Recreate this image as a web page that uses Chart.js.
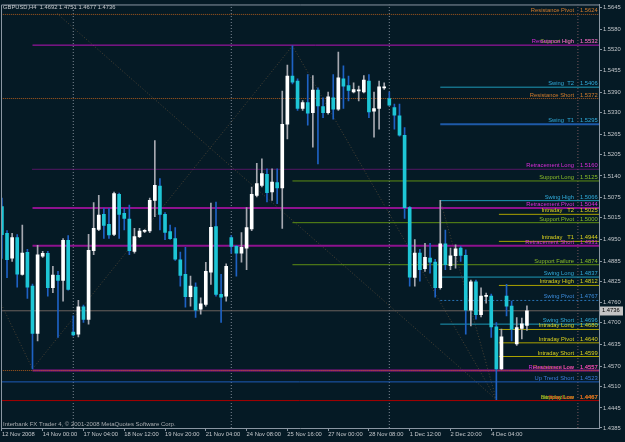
<!DOCTYPE html>
<html><head><meta charset="utf-8">
<script src="https://cdn.jsdelivr.net/npm/chart.js@4.4.1/dist/chart.umd.min.js"></script>
<style>html,body{margin:0;padding:0;background:#051a25;overflow:hidden}canvas{display:block}</style>
</head><body>
<canvas id="c" width="625" height="442"></canvas>
<script>
const symbolTitle = 'GBPUSD,H4  1.4692 1.4751 1.4677 1.4736';
const footerText = 'Interbank FX Trader 4, \u00a9 2001-2008 MetaQuotes Software Corp.';

const opens  = [1.5048,1.4968,1.4894,1.4955,1.4845,1.4911,1.4810,1.4668,1.4900,1.4908,1.4805,1.4842,1.4827,1.4947,1.4672,1.4666,1.4748,1.4710,1.4916,1.4980,
1.5025,1.4995,1.4965,1.5085,1.5028,1.5011,1.4914,1.4958,1.4974,1.4975,1.5067,1.5110,1.5025,1.4973,1.4952,1.4889,1.4845,1.4778,1.4807,1.4741,
1.4755,1.4852,1.4988,1.4785,1.4780,1.4955,1.4929,1.4909,1.4924,1.4981,1.5082,1.5112,1.5145,1.5092,1.5120,1.5104,1.5295,1.5439,1.5424,1.5342,
1.5360,1.5330,1.5397,1.5348,1.5330,1.5374,1.5340,1.5431,1.5411,1.5392,1.5395,1.5392,1.5424,1.5334,1.5342,1.5404,1.5372,1.5345,1.5320,1.5262,
1.5045,1.4836,1.4909,1.4862,1.4894,1.4882,1.4805,1.4937,1.4871,1.4901,1.4924,1.4902,1.4738,1.4823,1.4724,1.4779,1.4780,1.4688,1.4562,1.4780,
1.4750,1.4637,1.4683,1.4692];
const highs  = [1.5074,1.4976,1.4968,1.4964,1.4993,1.4920,1.4816,1.4932,1.4914,1.4914,1.4869,1.4854,1.4952,1.4961,1.4721,1.4767,1.4753,1.4965,1.5060,1.5082,
1.5043,1.5043,1.5092,1.5089,1.5043,1.5053,1.4983,1.4983,1.4979,1.5074,1.5246,1.5132,1.5030,1.4993,1.4985,1.4912,1.4926,1.4840,1.4820,1.4775,
1.4881,1.5059,1.5062,1.4845,1.4877,1.4961,1.4932,1.4970,1.5045,1.5107,1.5178,1.5191,1.5161,1.5161,1.5161,1.5394,1.5472,1.5530,1.5431,1.5366,
1.5444,1.5441,1.5404,1.5374,1.5391,1.5444,1.5511,1.5470,1.5439,1.5419,1.5409,1.5441,1.5444,1.5391,1.5424,1.5419,1.5391,1.5355,1.5355,1.5285,
1.5048,1.4949,1.4920,1.4938,1.4938,1.4890,1.5067,1.4978,1.4924,1.4934,1.4929,1.4919,1.4828,1.4828,1.4805,1.4789,1.4786,1.4701,1.4681,1.4815,
1.4765,1.4716,1.4714,1.4751];
const lows   = [1.4893,1.4835,1.4884,1.4807,1.4843,1.4773,1.4562,1.4646,1.4896,1.4780,1.4790,1.4656,1.4765,1.4798,1.4661,1.4658,1.4701,1.4696,1.4904,1.4976,
1.4953,1.4953,1.4961,1.4953,1.4978,1.4904,1.4909,1.4955,1.4970,1.4970,1.5018,1.4978,1.4949,1.4950,1.4887,1.4810,1.4747,1.4750,1.4716,1.4726,
1.4750,1.4815,1.4780,1.4701,1.4765,1.4909,1.4840,1.4882,1.4859,1.4976,1.5077,1.5107,1.5062,1.5067,1.5057,1.4983,1.5251,1.5416,1.5336,1.5336,
1.5292,1.5226,1.5176,1.5315,1.5325,1.5310,1.5336,1.5342,1.5365,1.5389,1.5365,1.5389,1.5315,1.5256,1.5280,1.5399,1.5351,1.5280,1.5259,1.5013,
1.4810,1.4810,1.4825,1.4854,1.4849,1.4777,1.4801,1.4859,1.4859,1.4864,1.4884,1.4666,1.4691,1.4711,1.4718,1.4759,1.4656,1.4470,1.4560,1.4721,
1.4646,1.4632,1.4652,1.4677];
const closes = [1.4964,1.4889,1.4955,1.4846,1.4909,1.4807,1.4668,1.4904,1.4908,1.4805,1.4843,1.4827,1.4947,1.4800,1.4664,1.4748,1.4710,1.4917,1.4983,1.5023,
1.4992,1.4963,1.5087,1.5025,1.5013,1.4916,1.4958,1.4975,1.4975,1.5067,1.5112,1.5025,1.4971,1.4952,1.4891,1.4842,1.4778,1.4810,1.4738,1.4757,
1.4854,1.4986,1.4785,1.4777,1.4869,1.4929,1.4909,1.4926,1.4985,1.5085,1.5117,1.5147,1.5090,1.5122,1.5104,1.5295,1.5439,1.5421,1.5342,1.5360,
1.5328,1.5397,1.5350,1.5330,1.5377,1.5340,1.5434,1.5409,1.5396,1.5399,1.5397,1.5427,1.5332,1.5342,1.5407,1.5407,1.5352,1.5322,1.5262,1.5045,
1.4837,1.4909,1.4859,1.4896,1.4882,1.4805,1.4937,1.4874,1.4901,1.4922,1.4902,1.4738,1.4823,1.4724,1.4780,1.4780,1.4688,1.4562,1.4658,1.4750,
1.4681,1.4686,1.4697,1.4736];

const xTickIdx    = [1, 9, 17, 25, 33, 41, 49, 57, 65, 73, 81, 89, 97];
const xTickLabels = ['12 Nov 2008','14 Nov 00:00','17 Nov 04:00','18 Nov 12:00','19 Nov 20:00','21 Nov 04:00','24 Nov 08:00','25 Nov 16:00','27 Nov 00:00','28 Nov 08:00','1 Dec 12:00','2 Dec 20:00','4 Dec 04:00'];
const yTickValues = [1.5645,1.5580,1.5520,1.5455,1.5390,1.5330,1.5265,1.5205,1.5140,1.5075,1.5015,1.4950,1.4885,1.4825,1.4760,1.4700,1.4635,1.4570,1.4510,1.4445,1.4385];
const xRange = [0.82, 118.14];
const yRange = [1.43848, 1.56538];

const weekSeparators = [15, 46, 77];
const markerLineIdx = [114];
const bidPrice = 1.4736;

const levelNames  = ['Resistance Pivot','Support High','Resistance High','Swing  T2','Resistance Short','Swing  T1','Retracement Long','Support Long','Swing High','Retracement Pivot','Intraday   T2','Support Pivot','Intraday   T1','Retracement Short','Support Failure','Swing Long','Intraday High','Swing Pivot','Swing Short','Intraday Long','Intraday Pivot','Intraday Short','Resistance Low','Retracement Low','Up Trend Short','Intraday Low','Support Low','Stop Loss'];
const levelPrices = [1.5624,1.5532,1.5532,1.5406,1.5372,1.5295,1.5160,1.5125,1.5066,1.5044,1.5025,1.5000,1.4944,1.4931,1.4874,1.4837,1.4812,1.4767,1.4696,1.4680,1.4640,1.4599,1.4557,1.4557,1.4523,1.4467,1.4467,1.4467];
const levelFrom   = [0,null,7,87,0,87,7,58,87,7,98.5,58,98.5,7,58,87,98.5,87,87,98.5,98.5,98.5,0,7,0,null,null,0];
const levelKind   = ['res','supportText','magThin','swing','res','swingBlue','magDot','support','swing','magThick','intraday','support','intraday','magThick','support','swing','intraday','swingPivot','swing','intraday','intraday','intraday','res','magThick','trend','intradayText','supportText','stop'];

const fanFromIdx   = [11.8, 7, 0.9, 58, 87];
const fanFromPrice = [1.5627, 1.4562, 1.4755, 1.5530, 1.5067];
const fanToIdx     = [98, 58, 7, 98, 98];
const fanToPrice   = [1.4470, 1.5530, 1.4562, 1.4470, 1.4470];

const BG = '#051a25';
const AXIS = '#8a96a2';
const TXT = '#c4c8cc';
const FONT = '"Liberation Sans", Arial, sans-serif';
const styles = {
  res:        {line:'#a8581c', w:1, dash:[1,1], text:'#d47c2c'},
  magThin:    {line:'#b814b8', w:1, dash:[],    text:'#dc2cdc'},
  magDot:     {line:'#a414a4', w:1, dash:[1,1], text:'#dc2cdc'},
  magThick:   {line:'#8e128e', w:2, dash:[],    text:'#dc2cdc'},
  swing:      {line:'#1e9ab8', w:1, dash:[],    text:'#30acdc'},
  swingBlue:  {line:'#1e5aa8', w:2, dash:[],    text:'#30acdc'},
  swingPivot: {line:'#2872b4', w:1, dash:[2,2], text:'#3c8cdc'},
  support:    {line:'#5e8e14', w:1, dash:[],    text:'#8cbe28'},
  supportText:{line:null,                       text:'#8cbe28'},
  intraday:   {line:'#aaa200', w:1, dash:[],    text:'#dcd21e'},
  intradayText:{line:null,                      text:'#dcd21e'},
  trend:      {line:'#1e5cb8', w:1, dash:[],    text:'#3c7cdc'},
  stop:       {line:'#a80000', w:1, dash:[],    text:'#e41e1e'}
};

const bullBodies=[], bearBodies=[], bullWicks=[], bearWicks=[];
opens.forEach((o,i)=>{
  const x=i+1, c=closes[i], up=c>=o;
  (up?bullBodies:bearBodies).push({x, y:[o,c]});
  (up?bullWicks:bearWicks).push({x, y:[lows[i],highs[i]]});
});

const datasets = [
  {type:'bar', data:bullBodies, backgroundColor:'#ffffff', barThickness:3, minBarLength:1, grouped:false, order:1, borderWidth:0},
  {type:'bar', data:bearBodies, backgroundColor:'#1ec6d6', barThickness:3, minBarLength:1, grouped:false, order:1, borderWidth:0},
  {type:'bar', data:bullWicks, backgroundColor:'#a6a8b0', barThickness:1, grouped:false, order:2, borderWidth:0},
  {type:'bar', data:bearWicks, backgroundColor:'#1e62c4', barThickness:1, grouped:false, order:2, borderWidth:0}
];
function lineDs(pts, color, w, dash, order){
  return {type:'line', data:pts, borderColor:color, borderWidth:w, borderDash:dash, pointRadius:0, fill:false, order:order, clip:0, tension:0};
}
weekSeparators.forEach(v=>datasets.push(lineDs([{x:v,y:yRange[0]},{x:v,y:yRange[1]}], '#7c8894', 1, [1,2], 9)));
markerLineIdx.forEach(v=>datasets.push(lineDs([{x:v,y:yRange[0]},{x:v,y:yRange[1]}], '#7a5a5e', 1, [1,2], 9)));
fanFromIdx.forEach((v,i)=>datasets.push(lineDs([{x:v,y:fanFromPrice[i]},{x:fanToIdx[i],y:fanToPrice[i]}], '#4a4234', 1, [1,2], 8)));
datasets.push(lineDs([{x:xRange[0],y:bidPrice},{x:xRange[1],y:bidPrice}], '#6c625e', 1, [], 7));
levelPrices.forEach((p,i)=>{
  const st = styles[levelKind[i]];
  if(!st.line || levelFrom[i]===null) return;
  datasets.push(lineDs([{x:levelFrom[i],y:p},{x:xRange[1],y:p}], st.line, st.w, st.dash, 6));
});

const overlay = {
  id:'overlay',
  beforeDraw(chart){
    const ctx=chart.ctx; ctx.save(); ctx.fillStyle=BG; ctx.fillRect(0,0,chart.width,chart.height); ctx.restore();
  },
  afterDatasetsDraw(chart){
    const ctx=chart.ctx, ca=chart.chartArea, ys=chart.scales.y;
    ctx.save();
    ctx.font='5.8px '+FONT; ctx.textBaseline='alphabetic';
    levelPrices.forEach((p,i)=>{
      const st=styles[levelKind[i]], y=ys.getPixelForValue(p);
      ctx.fillStyle=st.text;
      ctx.textAlign='right'; ctx.fillText(levelNames[i], ca.right-25, y-2);
      ctx.textAlign='left'; ctx.fillText(p.toFixed(4), ca.right-19, y-2);
    });
    ctx.restore();
  },
  afterDraw(chart){
    const ctx=chart.ctx, ca=chart.chartArea, ys=chart.scales.y;
    ctx.save();
    ctx.strokeStyle=AXIS; ctx.lineWidth=1;
    ctx.beginPath(); ctx.moveTo(ca.left+0.5, ca.bottom); ctx.lineTo(ca.left+0.5, ca.top+0.5); ctx.lineTo(ca.right, ca.top+0.5); ctx.stroke();
    ctx.font='5.8px '+FONT; ctx.fillStyle=TXT; ctx.textAlign='left'; ctx.textBaseline='middle';
    ctx.fillText(symbolTitle, 3, 7);
    ctx.font='6px '+FONT; ctx.fillStyle='#a8acb0';
    ctx.fillText(footerText, 3, 424);
    const by=ys.getPixelForValue(bidPrice);
    ctx.fillStyle='#c4c4c4'; ctx.fillRect(ca.right+1, Math.round(by)-4.5, 23, 9);
    ctx.fillStyle='#000000'; ctx.font='5.8px '+FONT; ctx.fillText(bidPrice.toFixed(4), ca.right+3, by);
    ctx.restore();
  }
};

new Chart(document.getElementById('c'), {
  type:'bar',
  data:{datasets},
  options:{
    responsive:false, animation:false, devicePixelRatio:1,
    layout:{padding:{left:1, top:1, right:0, bottom:0}},
    plugins:{legend:{display:false}, tooltip:{enabled:false}},
    scales:{
      x:{type:'linear', min:xRange[0], max:xRange[1], offset:false, position:'bottom',
         grid:{display:true, offset:false, drawOnChartArea:false, drawTicks:true, tickLength:3, color:AXIS},
         border:{display:true, color:AXIS},
         ticks:{autoSkip:false, maxRotation:0, minRotation:0, align:'start', padding:0, color:TXT, font:{size:5.8, family:FONT},
                callback:(v,i)=>xTickLabels[i]},
         afterBuildTicks:s=>{s.ticks=xTickIdx.map(v=>({value:v}));},
         afterFit:s=>{s.height=14;}},
      y:{type:'linear', position:'right', min:yRange[0], max:yRange[1], beginAtZero:false,
         grid:{display:true, drawOnChartArea:false, drawTicks:true, tickLength:3, color:AXIS},
         border:{display:true, color:AXIS},
         ticks:{autoSkip:false, padding:1, color:TXT, font:{size:5.8, family:FONT}, callback:v=>Number(v).toFixed(4)},
         afterBuildTicks:s=>{s.ticks=yTickValues.map(v=>({value:v}));},
         afterFit:s=>{s.width=26;}}
    }
  },
  plugins:[overlay]
});
</script>
</body></html>
